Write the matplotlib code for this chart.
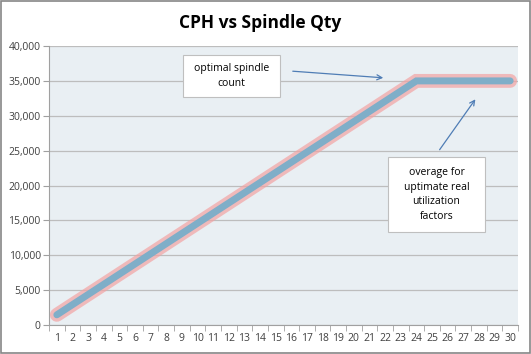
import matplotlib
matplotlib.use("Agg")
import matplotlib.pyplot as plt
from matplotlib.patches import Rectangle
from matplotlib.ticker import FuncFormatter, MultipleLocator

# spindle quantity vs CPH
spindles = list(range(1, 31))
cph = [1458, 2917, 4375, 5833, 7292, 8750, 10208, 11667, 13125, 14583,
       16042, 17500, 18958, 20417, 21875, 23333, 24792, 26250, 27708, 29167,
       30625, 32083, 33542, 35000, 35000, 35000, 35000, 35000, 35000, 35000]
title = "CPH vs Spindle Qty"
note_opt = "optimal spindle\ncount"
note_over = "overage for\nuptimate real\nutilization\nfactors"

W, H = 531, 354
plt.rcParams["font.family"] = ["Open Sans", "DejaVu Sans"]
fig = plt.figure(figsize=(W / 100, H / 100), dpi=100)
fig.patch.set_facecolor("white")
fig.add_artist(Rectangle((0.002, 0.003), 0.996, 0.994, transform=fig.transFigure,
                         fill=False, edgecolor="#868686", lw=1.2))
ax = fig.add_axes([0.0923, 0.0819, 0.8832, 0.7881])
ax.set_facecolor("#E9EFF3")

ax.plot(spindles, cph, color="#F2A3A3", lw=10, alpha=0.7, solid_capstyle="round",
        solid_joinstyle="miter", zorder=3)
ax.plot(spindles, cph, color="#7FAEC8", lw=5, solid_capstyle="round",
        solid_joinstyle="miter", zorder=4)

ax.set_xlim(0.5, 30.5)
ax.set_ylim(0, 40000)
ax.yaxis.set_major_locator(MultipleLocator(5000))
ax.yaxis.set_major_formatter(FuncFormatter(lambda v, p: f"{v:,.0f}"))
ax.set_xticks(spindles)
ax.set_xticks([i + 0.5 for i in range(0, 31)], minor=True)
ax.tick_params(axis="x", which="major", length=0, labelsize=7.5, colors="#404040", pad=6)
ax.tick_params(axis="x", which="minor", length=4, color="#A0A0A0")
ax.tick_params(axis="y", length=4, color="#A0A0A0", labelsize=7.5, labelcolor="#404040", pad=2)
ax.grid(axis="y", color="#BDBDBD", lw=0.9)
ax.set_axisbelow(True)
for s in ["top", "right"]:
    ax.spines[s].set_visible(False)
for s in ["left", "bottom"]:
    ax.spines[s].set_color("#A0A0A0")

fig.text(0.49, 0.935, title, ha="center", va="center", fontsize=12.5, fontweight="bold",
         color="black")


def px(x, y):
    # reference pixel position (top-left origin) -> figure fraction
    return x / W, 1 - y / H


def note(text, x0, y0, x1, y1):
    (fx0, fy1), (fx1, fy0) = px(x0, y0), px(x1, y1)
    fig.add_artist(Rectangle((fx0, fy0), fx1 - fx0, fy1 - fy0, transform=fig.transFigure,
                             fc="white", ec="#BFBFBF", lw=0.8, zorder=6))
    fig.text((fx0 + fx1) / 2, (fy0 + fy1) / 2, text, ha="center", va="center",
             fontsize=7.5, linespacing=1.45, zorder=7)


def arrow(x0, y0, x1, y1):
    fig.add_artist(matplotlib.patches.FancyArrowPatch(
        px(x0, y0), px(x1, y1), transform=fig.transFigure, arrowstyle="->",
        mutation_scale=9, color="#4F7DB5", lw=0.9, zorder=6))


note(note_opt, 183, 55, 280, 97)
arrow(290, 71, 386, 78)
note(note_over, 388, 157, 485, 232)
arrow(438, 152, 477, 97)

fig.savefig("out.png", dpi=100)
